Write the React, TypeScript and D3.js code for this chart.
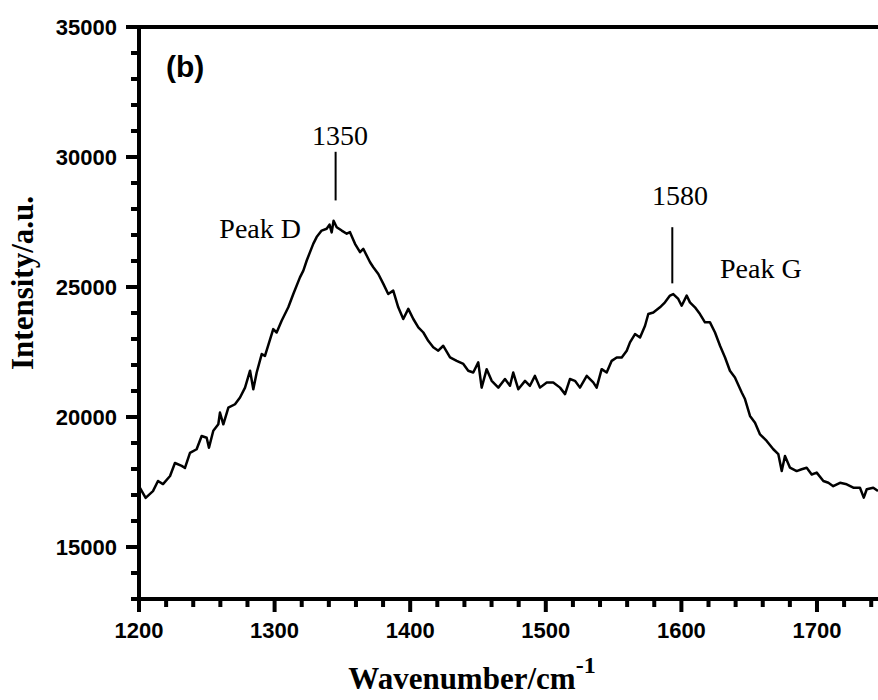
import React from "react";
import * as d3 from "d3";

const wavenumbers = [
  1200.7, 1204.9, 1210.3, 1214.0, 1217.7, 1222.9, 1226.5, 1231.5, 1233.9, 1237.6,
  1242.5, 1246.2, 1249.9, 1251.6, 1254.8, 1258.5, 1259.7, 1262.2, 1265.9, 1270.8,
  1274.5, 1278.2, 1281.9, 1284.3, 1286.8, 1290.5, 1292.9, 1299.0, 1301.5, 1305.2,
  1310.1, 1313.8, 1318.7, 1321.2, 1323.7, 1328.5, 1331.0, 1334.7, 1338.4, 1340.5,
  1342.1, 1343.5, 1345.8, 1349.5, 1353.2, 1355.6, 1359.3, 1363.0, 1365.4, 1370.4,
  1372.8, 1376.5, 1380.2, 1383.8, 1387.5, 1391.2, 1394.9, 1398.6, 1402.3, 1406.0,
  1409.7, 1413.3, 1417.0, 1420.7, 1424.4, 1429.4, 1434.3, 1439.2, 1442.8, 1446.5,
  1450.2, 1452.7, 1456.4, 1460.1, 1465.0, 1469.9, 1473.6, 1476.0, 1479.7, 1484.7,
  1488.3, 1492.0, 1495.7, 1500.7, 1505.5, 1510.5, 1514.2, 1517.8, 1521.5, 1525.2,
  1530.2, 1535.0, 1537.5, 1541.2, 1544.9, 1548.6, 1552.3, 1556.0, 1559.7, 1562.1,
  1565.8, 1569.5, 1573.2, 1575.6, 1579.3, 1584.2, 1587.9, 1591.6, 1594.0, 1597.7,
  1600.2, 1603.9, 1606.3, 1610.0, 1613.7, 1617.4, 1621.1, 1624.8, 1628.5, 1632.2,
  1635.8, 1639.5, 1644.5, 1646.9, 1650.6, 1654.3, 1658.0, 1662.9, 1667.8, 1671.5,
  1674.0, 1676.4, 1680.1, 1685.0, 1688.7, 1692.4, 1696.1, 1699.8, 1704.7, 1708.4,
  1712.0, 1717.0, 1721.9, 1726.8, 1731.7, 1734.5, 1736.7, 1741.5, 1745.0,
];

const intensities = [
  17270, 16890, 17150, 17540, 17420, 17730, 18230, 18120, 18040, 18620,
  18760, 19270, 19200, 18820, 19470, 19720, 20170, 19720, 20360, 20490,
  20750, 21130, 21780, 21070, 21710, 22420, 22350, 23380, 23250, 23700,
  24220, 24730, 25370, 25630, 26020, 26660, 26920, 27170, 27240, 27400,
  27100, 27550, 27300, 27170, 27050, 27110, 26660, 26340, 26470, 25950,
  25760, 25500, 25120, 24730, 24860, 24220, 23770, 24160, 23770, 23450,
  23250, 22930, 22680, 22550, 22740, 22290, 22160, 22040, 21780, 21710,
  22100, 21130, 21840, 21390, 21130, 21460, 21200, 21710, 21070, 21390,
  21200, 21580, 21130, 21330, 21330, 21130, 20880, 21460, 21390, 21130,
  21580, 21330, 21130, 21840, 21710, 22160, 22290, 22290, 22550, 22870,
  23190, 23060, 23510, 23960, 24020, 24220, 24410, 24670, 24730, 24540,
  24280, 24670, 24410, 24220, 23960, 23640, 23640, 23250, 22740, 22290,
  21780, 21520, 20940, 20690, 20040, 19780, 19330, 19080, 18760, 18570,
  17920, 18500, 18050, 17920, 17990, 18050, 17790, 17860, 17540, 17470,
  17340, 17470, 17410, 17280, 17280, 16900, 17220, 17280, 17150,
];

const yTicks = [15000, 20000, 25000, 30000, 35000];
const yMinorTicks = [13000, 14000, 16000, 17000, 18000, 19000, 21000, 22000, 23000, 24000, 26000, 27000, 28000, 29000, 31000, 32000, 33000, 34000];
const xTicks = [1200, 1300, 1400, 1500, 1600, 1700];
const xMinorTicks = [1220, 1240, 1260, 1280, 1320, 1340, 1360, 1380, 1420, 1440, 1460, 1480, 1520, 1540, 1560, 1580, 1620, 1640, 1660, 1680, 1720, 1740];

const W = 878;
const H = 700;
const mLeft = 139;
const mRight = 878;
const mTop = 27;
const mBottom = 599;

export default function App() {
  const x = d3.scaleLinear().domain([1200, 1745]).range([mLeft, mRight]);
  const y = d3.scaleLinear().domain([13000, 35000]).range([mBottom, mTop]);
  const pts = wavenumbers.map((w, i) => [w, intensities[i]] as [number, number]);
  const line = d3
    .line<[number, number]>()
    .x((d) => x(d[0]))
    .y((d) => y(d[1]));

  const sans = "'Liberation Sans', Arial, sans-serif";
  const serif = "'Liberation Serif', 'Times New Roman', serif";

  return (
    <svg
      width={W}
      height={H}
      style={{ position: "absolute", left: 0, top: 0, background: "#fff" }}
    >
      <defs>
        <clipPath id="plotclip">
          <rect x={mLeft} y={mTop} width={mRight - mLeft} height={mBottom - mTop} />
        </clipPath>
      </defs>
      <rect x={0} y={0} width={W} height={H} fill="#fff" />
      <path
        d={line(pts) || ""}
        fill="none"
        stroke="#000"
        strokeWidth={2.5}
        strokeLinejoin="round"
        clipPath="url(#plotclip)"
      />
      {/* frame drawn as filled rects */}
      <rect x={mLeft - 12} y={mTop - 2} width={mRight - mLeft + 12} height={4} fill="#000" />
      <rect x={mLeft - 2} y={mTop - 2} width={4} height={mBottom - mTop + 4} fill="#000" />
      <rect x={mLeft - 2} y={mBottom - 2} width={mRight - mLeft + 2} height={4} fill="#000" />
      {yTicks.map((t) => (
        <rect key={"ytk" + t} x={mLeft - 13} y={y(t) - 2} width={13} height={4} fill="#000" />
      ))}
      {yMinorTicks.map((t) => (
        <rect key={"ymk" + t} x={mLeft - 8} y={y(t) - 2} width={8} height={4} fill="#000" />
      ))}
      {xTicks.map((t) => (
        <rect key={"xtk" + t} x={x(t) - 2} y={mBottom} width={4} height={13} fill="#000" />
      ))}
      {xMinorTicks.map((t) => (
        <rect key={"xmk" + t} x={x(t) - 2} y={mBottom} width={4} height={8} fill="#000" />
      ))}
      {yTicks.map((t) => (
        <text
          key={"yl" + t}
          x={mLeft - 22}
          y={y(t)}
          dy="0.36em"
          textAnchor="end"
          fontFamily={sans}
          fontWeight="bold"
          fontSize={22}
        >
          {t}
        </text>
      ))}
      {xTicks.map((t) => (
        <text
          key={"xl" + t}
          x={x(t)}
          y={638}
          textAnchor="middle"
          fontFamily={sans}
          fontWeight="bold"
          fontSize={22}
        >
          {t}
        </text>
      ))}
      <text
        transform={`translate(33, 283) rotate(-90)`}
        textAnchor="middle"
        fontFamily={serif}
        fontWeight="bold"
        fontSize={31}
      >
        Intensity/a.u.
      </text>
      <text
        x={472}
        y={689}
        textAnchor="middle"
        fontFamily={serif}
        fontWeight="bold"
        fontSize={31}
      >
        Wavenumber/cm
        <tspan fontSize={24} dy={-16}>-1</tspan>
      </text>
      <text x={166} y={77} fontFamily={sans} fontWeight="bold" fontSize={30}>
        (b)
      </text>
      <text x={340} y={145} textAnchor="middle" fontFamily={serif} fontSize={28}>
        1350
      </text>
      <line x1={x(1345)} x2={x(1345)} y1={y(30200)} y2={y(28330)} stroke="#000" strokeWidth={2} />
      <text x={301} y={238} textAnchor="end" fontFamily={serif} fontSize={28}>
        Peak D
      </text>
      <text x={680} y={205} textAnchor="middle" fontFamily={serif} fontSize={28}>
        1580
      </text>
      <line x1={x(1593.3)} x2={x(1593.3)} y1={y(27300)} y2={y(25140)} stroke="#000" strokeWidth={2} />
      <text x={720} y={278} fontFamily={serif} fontSize={28}>
        Peak G
      </text>
    </svg>
  );
}
